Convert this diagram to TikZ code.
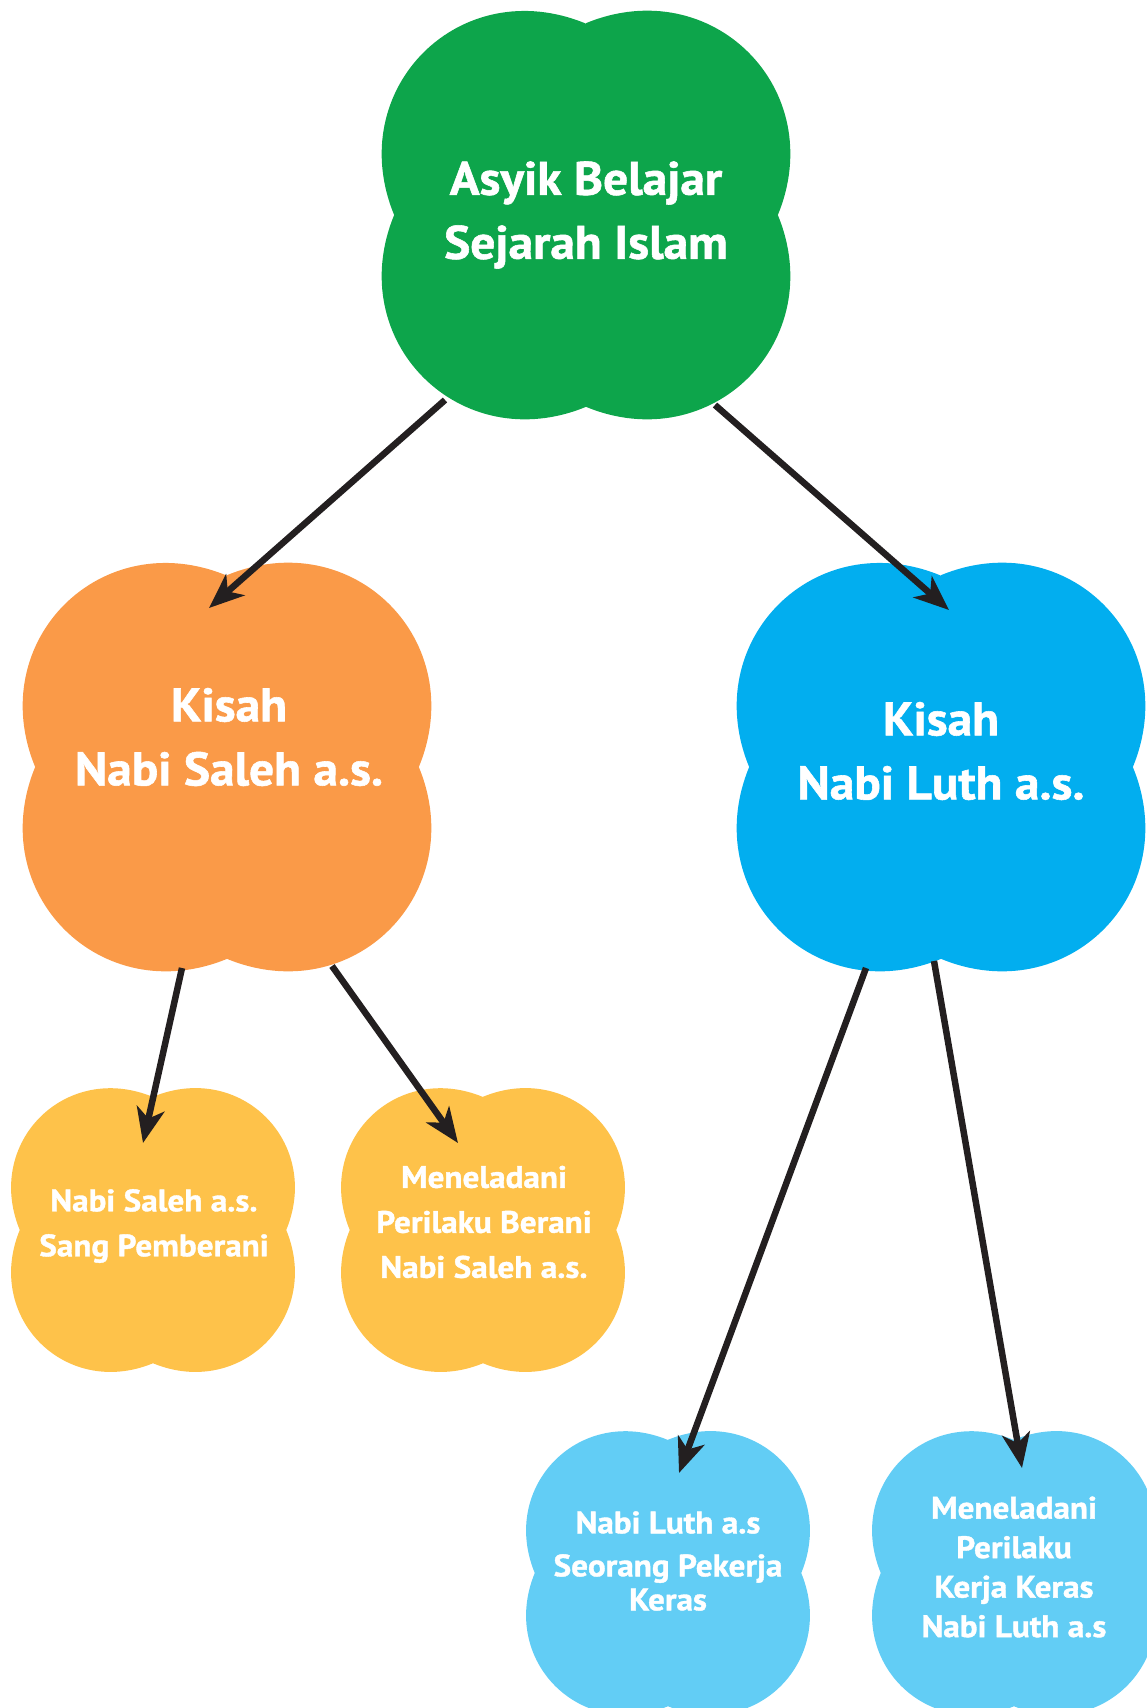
\documentclass[tikz,border=0pt]{standalone}
\usepackage{fontspec}
\setmainfont{PT Sans}
\newfontfamily\titlefont{PT Sans}[FakeStretch=1.05, FakeBold=1.2]
\newfontfamily\smallfont{PT Sans}[FakeStretch=1.07, FakeBold=1.2]
\usepackage{tikz}
\usetikzlibrary{arrows.meta}

\definecolor{rootgreen}{RGB}{13,165,75}
\definecolor{salehorange}{RGB}{250,154,72}
\definecolor{luthblue}{RGB}{2,174,239}
\definecolor{salehlight}{RGB}{254,194,74}
\definecolor{luthlight}{RGB}{98,205,245}
\definecolor{arrowdark}{RGB}{35,31,32}

% cloud with four lobes: centre, half size, colour
\newcommand{\blob}[3]{%
  \fill[#3, shift={#1}, scale=#2] (0,-0.945)
    .. controls (0.62,-1.2) and (1.2,-0.62) .. (0.945,0)
    .. controls (1.2,0.62) and (0.62,1.2) .. (0,0.945)
    .. controls (-0.62,1.2) and (-1.2,0.62) .. (-0.945,0)
    .. controls (-1.2,-0.62) and (-0.62,-1.2) .. cycle;
}

\begin{document}
\begin{tikzpicture}[x=1pt, y=-1pt,
  bigtext/.style={text=white, align=center, inner sep=0pt,
    font=\titlefont\bfseries\fontsize{47}{64}\selectfont},
  smalltext/.style={text=white, align=center, inner sep=0pt,
    font=\smallfont\bfseries\fontsize{31}{45}\selectfont},
  link/.style={arrowdark, line width=6.5pt,
    -{Stealth[length=35pt, width=28pt, inset=10pt]}}]
\useasboundingbox (0,0) rectangle (1147,1708);
\clip (0,0) rectangle (1147,1708);

% Clouds
\blob{(586,215)}{203}{rootgreen}
\blob{(227,767)}{203}{salehorange}
\blob{(941,767)}{203}{luthblue}
\blob{(153,1230)}{141}{salehlight}
\blob{(483,1230)}{141}{salehlight}
\blob{(668,1573)}{141}{luthlight}
\blob{(1014,1573)}{141}{luthlight}

% Labels
\node[bigtext] (root) at (586,215) {Asyik Belajar\\Sejarah Islam};
\node[bigtext] (saleh) at (229,737) {Kisah\\Nabi Saleh a.s.};
\node[bigtext] (luth) at (941,751) {Kisah\\Nabi Luth a.s.};
\node[smalltext] (salehA) at (154,1226) {Nabi Saleh a.s.\\Sang Pemberani};
\node[smalltext] (salehB) at (484,1222) {Meneladani\\Perilaku Berani\\Nabi Saleh a.s.};
\node[smalltext, font=\smallfont\bfseries\fontsize{31}{43}\selectfont]
  (luthA) at (668,1561) {Nabi Luth a.s\\Seorang Pekerja\\[-9pt]Keras};
\node[smalltext, font=\smallfont\bfseries\fontsize{31}{39.5}\selectfont]
  (luthB) at (1014,1567) {Meneladani\\Perilaku\\Kerja Keras\\Nabi Luth a.s};

% Arrows
\draw[link] ([shift={(-141,185)}]root.center) -- ([shift={(-20,-129)}]saleh.center);
\draw[link] ([shift={(129,190)}]root.center) -- ([shift={(8,-141)}]luth.center);
\draw[link] ([shift={(-47,231)}]saleh.center) -- ([shift={(-11,-83)}]salehA.center);
\draw[link] ([shift={(103,229)}]saleh.center) -- ([shift={(-26,-79)}]salehB.center);
\draw[link] ([shift={(-75,217)}]luth.center) -- ([shift={(11,-88)}]luthA.center);
\draw[link] ([shift={(-7,210)}]luth.center) -- ([shift={(8,-99)}]luthB.center);
\end{tikzpicture}
\end{document}
